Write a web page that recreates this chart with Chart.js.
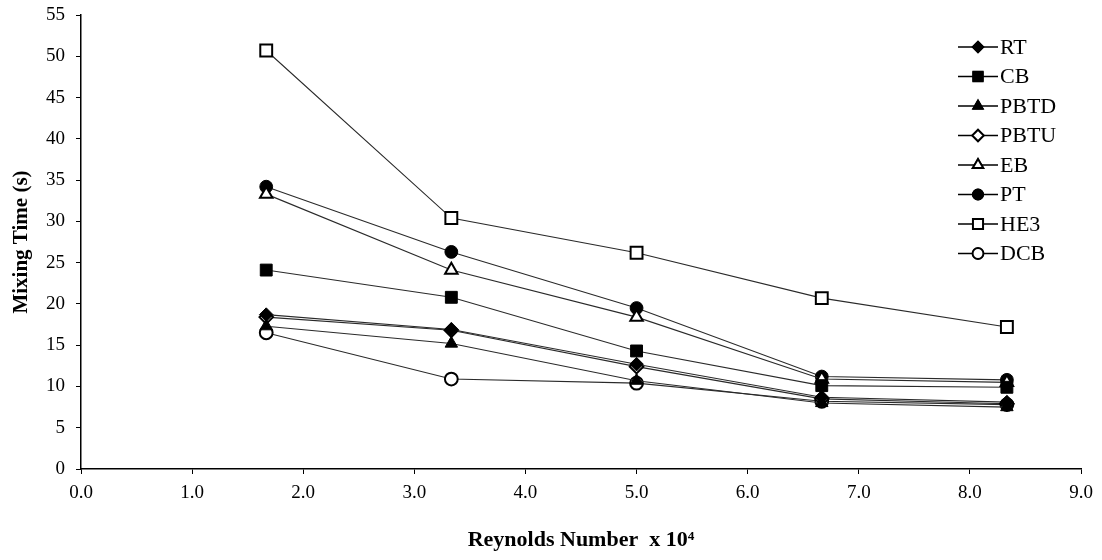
<!DOCTYPE html>
<html>
<head>
<meta charset="utf-8">
<script src="https://cdn.jsdelivr.net/npm/chart.js@4.4.1/dist/chart.umd.min.js"></script>
<style>
  html, body { margin: 0; padding: 0; background: #fff; }
  #wrap { width: 1102px; height: 560px; }
</style>
</head>
<body>
<div id="wrap"><canvas id="c" width="1102" height="560"></canvas></div>
<script>
// Reynolds number (x 10^4) and mixing time (s) for each impeller configuration
const reynolds = [1.667, 3.333, 5.0, 6.667, 8.333];
const rt   = [18.7, 16.9, 12.7, 8.7, 8.1];
const cb   = [24.1, 20.8, 14.3, 10.1, 9.9];
const pbtd = [17.3, 15.2, 10.7, 8.0, 7.5];
const pbtu = [18.4, 16.8, 12.4, 8.5, 7.9];
const eb   = [33.3, 24.1, 18.4, 10.9, 10.5];
const pt   = [34.2, 26.3, 19.5, 11.2, 10.8];
const he3  = [50.7, 30.4, 26.2, 20.7, 17.2];
const dcb  = [16.5, 10.9, 10.4, 8.2, 7.8];

const seriesNames = ['RT', 'CB', 'PBTD', 'PBTU', 'EB', 'PT', 'HE3', 'DCB'];
const seriesValues = [rt, cb, pbtd, pbtu, eb, pt, he3, dcb];
const markerShapes = ['rectRot', 'rect', 'triangle', 'rectRot', 'triangle', 'circle', 'rect', 'circle'];
const markerFilled = [true, true, true, false, false, true, false, false];

const yTicks = [0, 5, 10, 15, 20, 25, 30, 35, 40, 45, 50, 55];
const xTicks = [0, 1, 2, 3, 4, 5, 6, 7, 8, 9];

const SERIF = '"Liberation Serif", "Times New Roman", serif';
const LINE = '#2a2a2a';

function radiusFor(shape) {
  if (shape === 'rect') return 8.4;
  if (shape === 'triangle') return 7.2;
  if (shape === 'rectRot') return 6.8;
  return 6.4;
}

const datasets = seriesNames.map((name, i) => ({
  label: name,
  data: reynolds.map((x, j) => ({ x: x, y: seriesValues[i][j] })),
  borderColor: LINE,
  borderWidth: 1.1,
  pointStyle: markerShapes[i],
  pointRadius: radiusFor(markerShapes[i]),
  pointHoverRadius: radiusFor(markerShapes[i]),
  pointBackgroundColor: markerFilled[i] ? '#000' : '#fff',
  pointBorderColor: '#000',
  pointBorderWidth: markerFilled[i] ? 1 : 2,
  fill: false,
  tension: 0
}));

// Legend with a short line through each marker, drawn in the top-right of the plot
const lineLegend = {
  id: 'lineLegend',
  afterDraw(chart) {
    const ctx = chart.ctx;
    const x0 = 958, x1 = 998, top = 47, step = 29.5;
    ctx.save();
    seriesNames.forEach((name, i) => {
      const y = top + i * step;
      ctx.strokeStyle = '#000';
      ctx.lineWidth = 1.3;
      ctx.beginPath();
      ctx.moveTo(x0, y);
      ctx.lineTo(x1, y);
      ctx.stroke();
      const shape = markerShapes[i];
      const r = radiusFor(shape) * 0.85;
      Chart.helpers.drawPoint(ctx, {
        pointStyle: shape,
        radius: r,
        borderWidth: markerFilled[i] ? 1 : 2,
        rotation: 0
      }, (x0 + x1) / 2, y);
      ctx.fillStyle = markerFilled[i] ? '#000' : '#fff';
      ctx.strokeStyle = '#000';
      ctx.lineWidth = markerFilled[i] ? 1 : 2;
      ctx.fill();
      ctx.stroke();
      ctx.fillStyle = '#000';
      ctx.font = '22px ' + SERIF;
      ctx.textBaseline = 'middle';
      ctx.textAlign = 'left';
      ctx.fillText(name, x1 + 2, y + 1);
    });
    ctx.restore();
  }
};

new Chart(document.getElementById('c'), {
  type: 'line',
  data: { datasets: datasets },
  plugins: [lineLegend],
  options: {
    responsive: false,
    animation: false,
    devicePixelRatio: 1,
    layout: { padding: { top: 15, right: 21, bottom: 6, left: 6 } },
    plugins: {
      legend: { display: false },
      tooltip: { enabled: false }
    },
    scales: {
      x: {
        type: 'linear',
        min: 0,
        max: 9,
        afterBuildTicks(scale) { scale.ticks = xTicks.map(v => ({ value: v })); },
        afterFit(scale) {
          scale.height = 85;
          scale.paddingLeft = 0;
          scale.paddingRight = 0;
        },
        ticks: {
          color: '#000',
          font: { family: SERIF, size: 19 },
          padding: 8,
          callback: v => Number(v).toFixed(1)
        },
        grid: {
          drawOnChartArea: false,
          drawTicks: true,
          tickLength: 5,
          color: '#000'
        },
        border: { color: '#000', width: 1.5 },
        title: {
          display: true,
          text: 'Reynolds Number  x 10\u2074',
          color: '#000',
          font: { family: SERIF, size: 22, weight: 'bold' },
          padding: { top: 22, bottom: 0 }
        }
      },
      y: {
        min: 0,
        max: 55,
        afterBuildTicks(scale) { scale.ticks = yTicks.map(v => ({ value: v })); },
        afterFit(scale) {
          scale.width = 75;
          scale.paddingTop = 0;
          scale.paddingBottom = 0;
        },
        ticks: {
          color: '#000',
          font: { family: SERIF, size: 19 },
          padding: 11
        },
        grid: {
          drawOnChartArea: false,
          drawTicks: true,
          tickLength: 5,
          color: '#000'
        },
        border: { color: '#000', width: 1.5 },
        title: {
          display: true,
          text: 'Mixing Time (s)',
          color: '#000',
          font: { family: SERIF, size: 21, weight: 'bold' },
          padding: { top: 3, bottom: 8 }
        }
      }
    }
  }
});
</script>
</body>
</html>
